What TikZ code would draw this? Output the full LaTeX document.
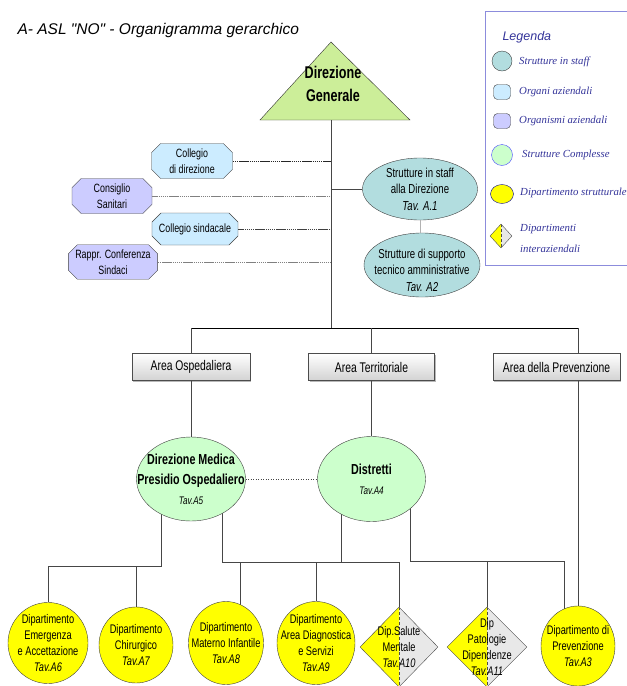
\documentclass[tikz,border=0pt]{standalone}
\usepackage{fontspec}
\setmainfont{Liberation Serif}
\newfontfamily\narrow[FakeStretch=0.74]{Liberation Sans}
\newfontfamily\titlefont{Liberation Sans}
\usetikzlibrary{shapes,backgrounds,shadows}

\definecolor{dgcol}{RGB}{204,238,153}
\definecolor{staffcol}{RGB}{178,221,223}
\definecolor{organicol}{RGB}{204,236,255}
\definecolor{organismicol}{RGB}{204,204,255}
\definecolor{complcol}{RGB}{204,255,204}
\definecolor{dipcol}{RGB}{255,255,0}
\definecolor{intercol}{RGB}{232,232,232}
\definecolor{legcol}{RGB}{51,51,153}
\definecolor{legframe}{RGB}{140,140,220}

\newcommand{\tav}[1]{{\itshape #1}}

\begin{document}
\begin{tikzpicture}[x=1pt,y=-1pt]
    \useasboundingbox (0,0) rectangle (627,686);

    \tikzstyle{oval}=[ellipse,draw=gray!50!black,inner sep=0pt]
    \tikzstyle{otxt}=[align=center,inner sep=0pt,font=\narrow\fontsize{12.5}{16}\selectfont]
    \tikzstyle{btxt}=[otxt,font=\narrow\bfseries\fontsize{14.5}{20}\selectfont]

    \tikzstyle{staff}=[oval,fill=staffcol]      % strutture in staff
    \tikzstyle{compl}=[oval,fill=complcol]      % strutture complesse
    \tikzstyle{dip}=[oval,fill=dipcol]          % dipartimento strutturale
    \tikzstyle{inter}=[diamond,draw=gray!60!black,fill=intercol,inner sep=0pt,
        minimum width=78pt,minimum height=80pt,
        path picture={\fill[dipcol] (path picture bounding box.north) -- (path picture bounding box.west)
            -- (path picture bounding box.south) -- cycle;
          \draw[densely dashed,gray!60!black] (path picture bounding box.north) -- (path picture bounding box.south);}]
    \tikzstyle{organo}=[chamfered rectangle,chamfered rectangle xsep=6pt,draw=gray!50!black,align=center,
        inner xsep=1pt,inner ysep=2pt,font=\narrow\fontsize{12}{15.5}\selectfont]
    \tikzstyle{organi}=[organo,fill=organicol]
    \tikzstyle{organismi}=[organo,fill=organismicol]
    \tikzstyle{area}=[rectangle,draw=gray!60!black,top color=white,bottom color=gray!35,
        drop shadow={shadow xshift=1.2pt,shadow yshift=-1.2pt,fill=gray!70,opacity=0.8},
        minimum height=27pt,font=\narrow\fontsize{14}{16}\selectfont]
    \tikzstyle{link}=[gray!55!black,line width=0.5pt]
    \tikzstyle{staffline}=[gray,dash pattern=on 1.5pt off 0.6pt,line width=0.4pt]
    \tikzstyle{leg}=[anchor=west,inner sep=0pt,text=legcol,font=\itshape\fontsize{10.8}{13}\selectfont]

    \node[anchor=west,font=\titlefont\itshape\fontsize{15.5}{18}\selectfont] (title) at (14,30)
        {A- ASL "NO" - Organigramma gerarchico};

    % legenda
    \draw[legframe] (627,11) -- (485,11) -- (485,265) -- (627,265);
    \node[anchor=west,text=legcol,font=\titlefont\itshape\fontsize{12.5}{14}\selectfont] (legtitle) at (499,37) {Legenda};
    \node[staff,minimum size=20pt] (k1) at (502,61) {};
    \node[leg] (k1t) at (519,62) {Strutture in staff};
    \node[rectangle,rounded corners=4pt,draw=gray!50!black,fill=organicol,minimum width=17pt,minimum height=15pt] (k2) at (502,92) {};
    \node[leg] (k2t) at (519,92) {Organi aziendali};
    \node[rectangle,rounded corners=4pt,draw=gray!50!black,fill=organismicol,minimum width=17pt,minimum height=15pt] (k3) at (502,121) {};
    \node[leg] (k3t) at (519,121) {Organismi aziendali};
    \node[compl,draw=blue!70,minimum size=21pt] (k4) at (502,155) {};
    \node[leg] (k4t) at (522,155) {Strutture Complesse};
    \node[dip,draw=blue!60!black,minimum width=23pt,minimum height=19pt] (k5) at (502,194) {};
    \node[leg] (k5t) at (520,193) {Dipartimento strutturale};
    \node[inter,minimum width=22pt,minimum height=24pt] (k6) at (501,236) {};
    \node[leg,align=left,font=\itshape\fontsize{10.8}{21}\selectfont] (k6t) at (520,238) {Dipartimenti\\interaziendali};

    % direzione generale
    \filldraw[fill=dgcol,draw=gray!40!black] (260,120) -- (331,42) -- (410,120) -- cycle;
    \coordinate (dgbase) at (331,120);
    \node[btxt,font=\narrow\bfseries\fontsize{17}{23}\selectfont] (dg) at (333,84) {Direzione\\Generale};

    % organi e organismi
    \node[organi,minimum width=81pt,minimum height=35pt] (cdir) at (192,161) {Collegio\\di direzione};
    \node[organismi,minimum width=80pt,minimum height=35pt] (csan) at (112,196) {Consiglio\\Sanitari};
    \node[organi,minimum width=79pt,minimum height=32pt] (csin) at (195,229) {Collegio sindacale};
    \node[organismi,minimum width=80pt,minimum height=33pt] (rconf) at (113,262) {Rappr. Conferenza\\Sindaci};

    \draw[staffline,gray!30!black] (cdir.east) -- (cdir.east -| dgbase);
    \draw[staffline] (csan.east) -- (csan.east -| dgbase);
    \draw[staffline,gray!50!black] (csin.east) -- (csin.east -| dgbase);
    \draw[staffline] (rconf.east) -- (rconf.east -| dgbase);

    % staff
    \node[staff,minimum width=115pt,minimum height=62pt,
        label={[otxt,font=\narrow\fontsize{13}{16.5}\selectfont]center:{Strutture in staff\\alla Direzione\\\tav{Tav. A.1}}}] (sis) at (420,189) {};
    \node[staff,minimum width=116pt,minimum height=64pt,
        label={[otxt,font=\narrow\fontsize{13}{16.5}\selectfont,yshift=-5pt]center:{Strutture di supporto\\tecnico amministrative\\\tav{Tav. A2}}}] (sup) at (422,265) {};
    \draw[link] (sis.west) -- (sis.west -| dgbase);
    \draw[link,gray!60] (sis.south) -- (sis.south |- sup.north);

    % aree
    \coordinate (barL) at (191,328);
    \coordinate (barR) at (578,328);
    \node[area,minimum width=118pt] (aosp) at (191,367) {Area Ospedaliera};
    \node[area,minimum width=126pt] (ater) at (371.5,367) {Area Territoriale};
    \node[area,minimum width=127pt] (aprev) at (556.5,367) {Area della Prevenzione};

    \draw[link] (dgbase) -- (dgbase |- barL);
    \draw[black,line width=0.8pt] (barL) -- (barR);
    \draw[link] (barL) -- (aosp);
    \draw[link] (ater |- barL) -- (ater);
    \draw[link] (barR) -- (barR |- aprev.north);

    % strutture complesse
    \node[compl,minimum width=109pt,minimum height=84pt,
        label={[btxt]center:{Direzione Medica\\Presidio Ospedaliero\\\tav{\mdseries\fontsize{11}{12}\selectfont Tav.A5}}}] (dm) at (191,479) {};
    \node[compl,minimum width=108pt,minimum height=85pt,
        label={[btxt]center:{Distretti\\\tav{\mdseries\fontsize{11}{12}\selectfont Tav.A4}}}] (dist) at (371.5,479) {};
    \draw[link] (aosp) -- (dm);
    \draw[link] (ater) -- (dist);
    \draw[link,dotted] (dm) -- (dist);

    % dipartimenti
    \node[dip,minimum width=80pt,minimum height=81pt,
        label={[otxt]center:{Dipartimento\\Emergenza\\e Accettazione\\\tav{Tav.A6}}}] (em) at (48,643) {};
    \node[dip,minimum width=74pt,minimum height=76pt,
        label={[otxt]center:{Dipartimento\\Chirurgico\\\tav{Tav.A7}}}] (ch) at (136,645) {};
    \node[dip,minimum width=75pt,minimum height=83pt,
        label={[otxt]center:{Dipartimento\\Materno Infantile\\\tav{Tav.A8}}}] (mi) at (226,643) {};
    \node[dip,minimum width=78pt,minimum height=83pt,
        label={[otxt]center:{Dipartimento\\Area Diagnostica\\e Servizi\\\tav{Tav.A9}}}] (ad) at (316,643) {};
    \node[inter,label={[otxt]center:{Dip.Salute\\Mentale\\\tav{Tav.A10}}}] (sm) at (399,647) {};
    \node[inter,minimum width=80pt,label={[otxt]center:{Dip\\Patologie\\Dipendenze\\\tav{Tav.A11}}}] (pd) at (487,647) {};
    \node[dip,minimum width=74pt,minimum height=80pt,
        label={[otxt]center:{Dipartimento di\\Prevenzione\\\tav{Tav.A3}}}] (pv) at (578,646) {};

    \draw[link] (barR |- aprev.south) -- (pv);

    \coordinate (dmL) at (161,566);
    \coordinate (dmR) at (222,562);
    \coordinate (miJ) at (240,562);
    \coordinate (diL) at (341,562);
    \coordinate (diR) at (410,561);
    \coordinate (pvJ) at (564,561);

    \begin{scope}[on background layer]
        \draw[link] (dmL |- dm) -- (dmL) -- (dmL -| em) -- (em);
        \draw[link] (dmL -| ch) -- (ch);
        \draw[link] (dmR |- dm) -- (dmR) -- (dmR -| sm) -- (sm);
        \draw[link] (miJ) -- (miJ |- mi);
        \draw[link] (dmR -| ad) -- (ad);
        \draw[link] (diL |- dist) -- (diL);
        \draw[link] (diR |- dist) -- (diR) -- (pvJ) -- (pvJ |- pv);
        \draw[link] (diR -| pd) -- (pd);
    \end{scope}
\end{tikzpicture}
\end{document}
